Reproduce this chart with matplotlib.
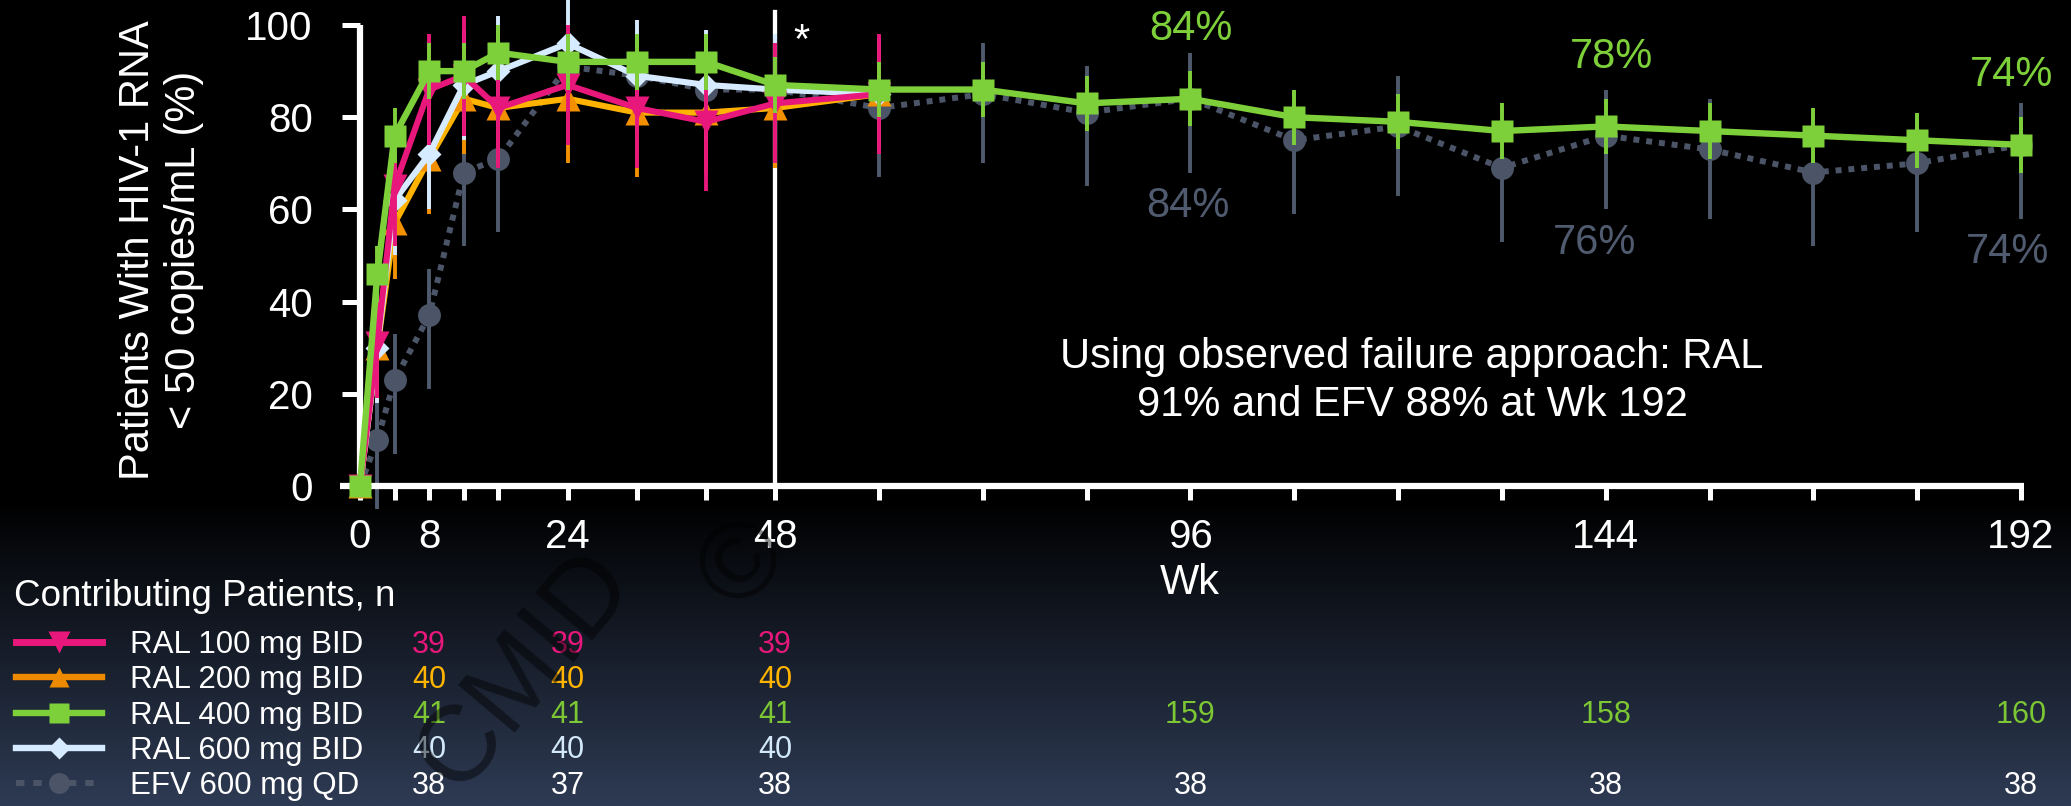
import matplotlib
matplotlib.use('Agg')
import matplotlib.pyplot as plt
import numpy as np
from matplotlib.lines import Line2D
from matplotlib.transforms import blended_transform_factory

plt.rcParams['font.family'] = ['Liberation Sans', 'DejaVu Sans']

# visit weeks
wk_dose = [0, 2, 4, 8, 12, 16, 24, 32, 40, 48, 60]
wk_long = [0, 2, 4, 8, 12, 16, 24, 32, 40, 48, 60, 72, 84, 96, 108, 120, 132, 144, 156, 168, 180, 192]

# % of patients with HIV-1 RNA < 50 copies/mL (error bar half-widths)
ral100 = [0, 31, 65, 86, 89, 82, 87, 82, 79, 83, 85]
ral100_err = [0, 12, 13, 12, 13, 13, 13, 13, 15, 13, 13]
ral200 = [0, 30, 57, 71, 84, 82, 84, 81, 81, 82, 85]
ral200_err = [0, 12, 12, 12, 12, 12, 14, 14, 13, 13, 11]
ral600 = [0, 30, 62, 72, 87, 90, 96, 89, 87, 86, 85]
ral600_err = [0, 12, 12, 12, 12, 12, 12, 12, 12, 12, 12]
ral400 = [0, 46, 76, 90, 90, 94, 92, 92, 92, 87, 86, 86, 83, 84, 80, 79, 77, 78, 77, 76, 75, 74]
ral400_err = [0, 6, 6, 6, 6, 6, 6, 6, 6, 6, 6, 6, 6, 6, 6, 6, 6, 6, 6, 6, 6, 6]
efv = [0, 10, 23, 37, 68, 71, 91, 89, 86, 86, 82, 85, 81, 84, 75, 78, 69, 76, 73, 68, 70, 74]
efv_lo = [0, -5, 7, 21, 52, 55, 75, 73, 71, 71, 67, 70, 65, 68, 59, 63, 53, 60, 58, 52, 55, 58]
efv_hi = [0, 20, 33, 47, 78, 82, 100, 99, 97, 97, 94, 96, 91, 94, 86, 89, 82, 86, 84, 81, 80, 83]

# axis ticks
tick_weeks = [0, 4, 8, 12, 16, 24, 32, 40, 48, 60, 72, 84, 96, 108, 120, 132, 144, 156, 168, 180, 192]
labeled_weeks = [0, 8, 24, 48, 96, 144, 192]
pct_weeks = [96, 144, 192]

# contributing patients table
n_weeks = [8, 24, 48, 96, 144, 192]
n_ral100 = [39, 39, 39]
n_ral200 = [40, 40, 40]
n_ral400 = [41, 41, 41, 159, 158, 160]
n_ral600 = [40, 40, 40]
n_efv = [38, 37, 38, 38, 38, 38]
group_labels = ['RAL 100 mg BID', 'RAL 200 mg BID', 'RAL 400 mg BID', 'RAL 600 mg BID', 'EFV 600 mg QD']

PINK = '#e8177b'
ORANGE_LINE = '#ffb300'
ORANGE = '#f29000'
GREEN = '#7ed03a'
LIGHT = '#d6ebff'
GREY = '#4b5567'
GREY_TXT = '#505b6f'

W, H = 2071, 806
fig = plt.figure(figsize=(W / 100, H / 100), dpi=100)
fig.patch.set_facecolor('black')

# slide background: black fading into navy at the bottom
bg = fig.add_axes([0, 0, 1, 1], zorder=-10)
rows = np.arange(H)
t = np.clip((rows - 500) / (H - 1 - 500), 0, 1)
bottom = np.array([46, 59, 84]) / 255
grad = t[:, None] * bottom[None, :]
bg.imshow(np.repeat(grad[:, None, :], 4, axis=1), aspect='auto',
          extent=[0, 1, 0, 1], interpolation='bilinear')
bg.axis('off')

# main axes
ax = fig.add_axes([340 / W, (H - 486) / H, 1684 / W, 461 / H])
ax.set_facecolor('none')
ax.set_xlim(-2.31, 192.35)
ax.set_ylim(0, 100)

for s in ['top', 'right']:
    ax.spines[s].set_visible(False)
ax.spines['left'].set_position(('data', 0))
ax.spines['left'].set_bounds(0, 100)
for s in ['left', 'bottom']:
    ax.spines[s].set_color('white')
    ax.spines[s].set_linewidth(4.5)
    ax.spines[s].set_capstyle('butt')

ax.set_yticks([0, 20, 40, 60, 80, 100])
ax.set_xticks(tick_weeks)
ax.set_xticklabels([str(w) if w in labeled_weeks else '' for w in tick_weeks])
ax.tick_params(axis='y', length=13, width=3.6, pad=21, labelsize=29,
               colors='white')
ax.tick_params(axis='x', length=10, width=3.6, pad=13, labelsize=29,
               colors='white')


def series(x, y, lo, hi, color, marker, ms, z, lw=4.4, ls='-', mfc=None,
           ecolor=None):
    ax.vlines(x, lo, hi, color=ecolor or color, lw=2.8, zorder=z,
              clip_on=False)
    ln, = ax.plot(x, y, color=color, lw=lw, ls=ls, marker=marker, ms=ms,
                  mfc=mfc or color, mec='none', zorder=z + 0.5, clip_on=False)
    if ls != '-':
        ln.set_dash_capstyle('butt')
    return ln


def sym(v, e):
    v, e = np.array(v), np.array(e)
    return v - e, v + e


series(wk_long, efv, efv_lo, efv_hi, GREY, 'o', 16.5, 2, lw=4.3,
       ls=(0, (1.0, 1.15)), ecolor='#4f5a6d')
series(wk_dose, ral200, *sym(ral200, ral200_err), ORANGE_LINE, '^', 17, 3,
       mfc=ORANGE, ecolor=ORANGE)
series(wk_dose, ral600, *sym(ral600, ral600_err), LIGHT, 'D', 12.5, 4)
series(wk_dose, ral100, *sym(ral100, ral100_err), PINK, 'v', 17, 5)
series(wk_long, ral400, *sym(ral400, ral400_err), GREEN, 's', 16.5, 6, lw=4.6)

# primary analysis week
ax.axvline(48, ymin=0, ymax=1.028, color='white', lw=3.1, zorder=1.5,
           clip_on=False)
ax.annotate('*', xy=(48, 100), xytext=(19, -12), textcoords='offset points',
            ha='center', va='center', fontsize=30, color='white')

# response rates at the later visits
green_dx = [0, 4, -7]
grey_dx = [-2, -8, -10]
for wk, gdx, edx in zip(pct_weeks, green_dx, grey_dx):
    i = wk_long.index(wk)
    ax.annotate(f'{ral400[i]}%', xy=(wk, ral400[i]), xytext=(gdx, 50),
                textcoords='offset points', ha='center', va='center',
                fontsize=30, color=GREEN, annotation_clip=False)
    ax.annotate(f'{efv[i]}%', xy=(wk, efv[i]), xytext=(edx, -77),
                textcoords='offset points', ha='center', va='center',
                fontsize=30, color=GREY_TXT, annotation_clip=False)

ax.text(0.6366, 0.2278,
        'Using observed failure approach: RAL\n91% and EFV 88% at Wk 192',
        transform=ax.transAxes, ha='center', va='center', fontsize=30,
        color='white', linespacing=1.25)
ax.text(0.5048, -0.2104, 'Wk', transform=ax.transAxes, ha='center',
        va='center', fontsize=30, color='white')

fig.text(161 / W, 1 - 250 / H, 'Patients With HIV-1 RNA\n< 50 copies/mL (%)',
         rotation=90, ha='center', va='center', fontsize=30, color='white',
         linespacing=1.2)

# table of contributing patients, laid out in pixel coordinates
tab = fig.add_axes([0, 0, 1, 1], zorder=2)
tab.set_xlim(0, W)
tab.set_ylim(H, 0)
tab.axis('off')
tab.patch.set_alpha(0)

tab.text(14, 597, 'Contributing Patients, n', ha='left', va='center',
         fontsize=26.5, color='white')

handles = [
    Line2D([], [], color=PINK, lw=5, marker='v', ms=16, mec='none'),
    Line2D([], [], color='#ee8a00', lw=4.6, marker='^', ms=15, mec='none'),
    Line2D([], [], color=GREEN, lw=4.6, marker='s', ms=15, mec='none'),
    Line2D([], [], color=LIGHT, lw=4.6, marker='D', ms=11, mec='none'),
    Line2D([], [], color=GREY, lw=4.3, ls=(0, (1.4, 1.5)), marker='o',
           ms=15, mec='none', dash_capstyle='butt'),
]
tab.legend(handles, group_labels, loc='upper left', bbox_to_anchor=(16, 630),
           bbox_transform=tab.transData, frameon=False, fontsize=22.5,
           handlelength=2.75, handletextpad=0.9, labelspacing=0.17,
           borderpad=0, borderaxespad=0, labelcolor='white', numpoints=1)

row_y = [645, 680, 715, 750, 786]
n_colors = [PINK, '#ffb400', '#7cc733', '#d3e9fb', 'white']
n_rows = [n_ral100, n_ral200, n_ral400, n_ral600, n_efv]
tr = blended_transform_factory(ax.transData, tab.transData)
for y, col, vals in zip(row_y, n_colors, n_rows):
    for wk, n in zip(n_weeks, vals):
        tab.text(wk, y, str(n), transform=tr, ha='center', va='center',
                 fontsize=22, color=col)

# faint slide watermark
for s, (x, y) in [('CMID', (525, 670)), ('\u00a9', (745, 565))]:
    tab.text(x, y, s, ha='center', va='center', rotation=50,
             rotation_mode='anchor', fontsize=78, color='black',
             alpha=0.45, zorder=10)

fig.savefig('out.png', dpi=100, facecolor=fig.get_facecolor())
